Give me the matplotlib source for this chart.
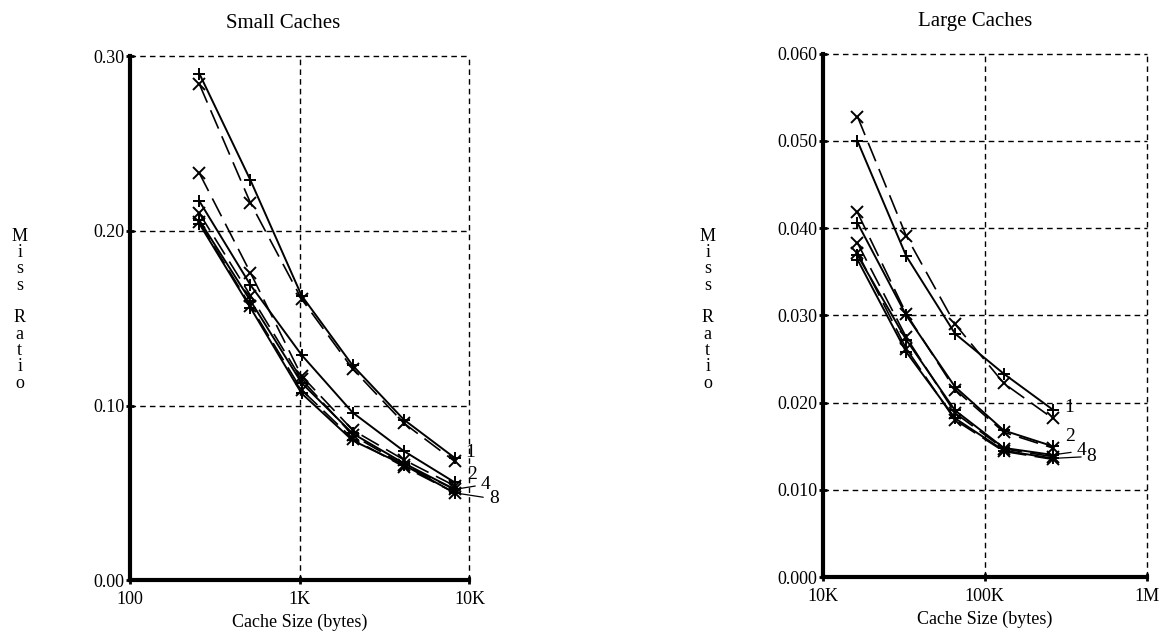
import matplotlib.pyplot as plt
from matplotlib.ticker import FixedLocator, NullLocator, FixedFormatter

plt.rcParams['font.family'] = ['Liberation Serif', 'DejaVu Serif']

# Small caches: sizes in bytes
small_sizes = [256, 512, 1024, 2048, 4096, 8192]
small_a1_plus = [0.290, 0.229, 0.163, 0.123, 0.092, 0.070]
small_a1_x = [0.284, 0.216, 0.161, 0.121, 0.090, 0.068]
small_a2_plus = [0.217, 0.169, 0.129, 0.096, 0.074, 0.056]
small_a2_x = [0.233, 0.176, 0.117, 0.086, 0.069, 0.054]
small_a4_plus = [0.206, 0.160, 0.113, 0.084, 0.067, 0.052]
small_a4_x = [0.210, 0.163, 0.115, 0.083, 0.066, 0.052]
small_a8_plus = [0.204, 0.156, 0.107, 0.080, 0.066, 0.050]
small_a8_x = [0.205, 0.157, 0.109, 0.081, 0.065, 0.050]

# Large caches
large_sizes = [16384, 32768, 65536, 131072, 262144]
large_a1_plus = [0.0500, 0.0368, 0.0279, 0.0233, 0.0192]
large_a1_x = [0.0528, 0.0391, 0.0290, 0.0222, 0.0182]
large_a2_plus = [0.0406, 0.0300, 0.0218, 0.0168, 0.0150]
large_a2_x = [0.0418, 0.0302, 0.0215, 0.0166, 0.0148]
large_a4_plus = [0.0369, 0.0272, 0.0191, 0.0148, 0.0140]
large_a4_x = [0.0383, 0.0275, 0.0188, 0.0147, 0.0138]
large_a8_plus = [0.0364, 0.0258, 0.0182, 0.0145, 0.0136]
large_a8_x = [0.0372, 0.0262, 0.0180, 0.0144, 0.0135]

assoc_labels = ['1', '2', '4', '8']

small_yticks = [0.0, 0.10, 0.20, 0.30]
small_ylabels = ['0.00', '0.10', '0.20', '0.30']
small_xticks = [100, 1000, 10000]
small_xlabels = ['100', '1K', '10K']

large_yticks = [0.0, 0.01, 0.02, 0.03, 0.04, 0.05, 0.06]
large_ylabels = ['0.000', '0.010', '0.020', '0.030', '0.040', '0.050', '0.060']
large_xticks = [10000, 100000, 1000000]
large_xlabels = ['10K', '100K', '1M']

fig = plt.figure(figsize=(11.62, 6.32), dpi=100)
ax1 = fig.add_axes([0.112, 0.082, 0.292, 0.829])
ax2 = fig.add_axes([0.708, 0.087, 0.279, 0.828])


def draw_panel(ax, sizes, pairs, xticks, xlabels, yticks, ylabels, ylim, xlim,
               title, title_x, label_offsets):
    for plus_vals, x_vals in pairs:
        ax.plot(sizes, plus_vals, color='black', lw=1.4, marker='+', ms=9, mew=1.4)
        ax.plot(sizes, x_vals, color='black', lw=1.2, ls=(0, (12, 5)), marker='x', ms=8, mew=1.4)
    ax.set_xscale('log')
    ax.set_xlim(*xlim)
    ax.set_ylim(*ylim)
    ax.xaxis.set_major_locator(FixedLocator(xticks))
    ax.xaxis.set_major_formatter(FixedFormatter(xlabels))
    ax.xaxis.set_minor_locator(NullLocator())
    ax.yaxis.set_major_locator(FixedLocator(yticks))
    ax.yaxis.set_major_formatter(FixedFormatter(ylabels))
    ax.grid(True, color='black', ls=(0, (4, 3)), lw=1.0)
    for gl in ax.get_xgridlines() + ax.get_ygridlines():
        gl.set_clip_on(False)
    for s in ['top', 'right']:
        ax.spines[s].set_visible(False)
    for s in ['left', 'bottom']:
        ax.spines[s].set_linewidth(3)
    ax.tick_params(axis='y', direction='inout', length=6, width=2, labelsize=13, pad=1)
    ax.tick_params(axis='x', direction='inout', length=6, width=2, labelsize=13, pad=5)
    ax.set_xlabel('Cache Size (bytes)', fontsize=13, labelpad=4)
    ax.set_title(title, fontsize=15, x=title_x, pad=20)
    # associativity labels next to the last points
    for (plus_vals, x_vals), lab, (dx, dy, lead) in zip(pairs, assoc_labels, label_offsets):
        ax.annotate(lab, xy=(sizes[-1], plus_vals[-1]), xytext=(dx, dy),
                    textcoords='offset pixels', fontsize=14, va='center', ha='left',
                    arrowprops=dict(arrowstyle='-', lw=0.9, color='black') if lead else None)
    ax.set_axisbelow(True)


small_pairs = [(small_a1_plus, small_a1_x), (small_a2_plus, small_a2_x),
               (small_a4_plus, small_a4_x), (small_a8_plus, small_a8_x)]
large_pairs = [(large_a1_plus, large_a1_x), (large_a2_plus, large_a2_x),
               (large_a4_plus, large_a4_x), (large_a8_plus, large_a8_x)]

draw_panel(ax1, small_sizes, small_pairs, small_xticks, small_xlabels,
           small_yticks, small_ylabels, (0, 0.30), (100, 10000),
           'Small Caches', 0.45, [(10, 5, False), (12, 8, False), (26, 5, True), (34, -6, True)])
draw_panel(ax2, large_sizes, large_pairs, large_xticks, large_xlabels,
           large_yticks, large_ylabels, (0, 0.060), (10000, 1000000),
           'Large Caches', 0.47, [(12, 2, False), (12, 10, False), (24, 4, True), (34, 2, True)])

# stacked y-axis labels
fig.text(0.017, 0.51, 'M\ni\ns\ns\n\nR\na\nt\ni\no', fontsize=13, ha='center', va='center',
         linespacing=0.95)
fig.text(0.609, 0.51, 'M\ni\ns\ns\n\nR\na\nt\ni\no', fontsize=13, ha='center', va='center',
         linespacing=0.95)

fig.savefig('out.png', dpi=100)
